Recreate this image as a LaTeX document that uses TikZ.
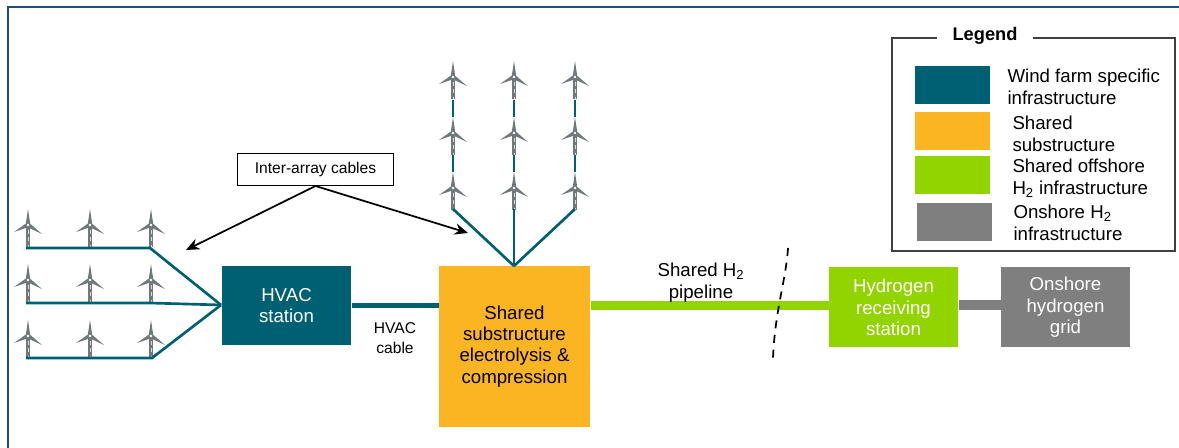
\documentclass[tikz,border=0pt]{standalone}
\usepackage{fontspec}
\setmainfont{Liberation Sans}
\usetikzlibrary{arrows.meta}
\definecolor{windteal}{RGB}{0,96,115}
\definecolor{sharedorange}{RGB}{251,181,34}
\definecolor{offgreen}{RGB}{146,212,0}
\definecolor{onshoregray}{RGB}{127,127,127}
\definecolor{framecol}{RGB}{31,78,121}
\definecolor{bladegray}{RGB}{112,120,122}
\tikzset{every picture/.style={line width=0.75pt}}
\tikzset{
  stationbox/.style={minimum width=96.75pt,minimum height=60pt,inner sep=0pt,align=center,text=white,font=\fontsize{14}{16}\selectfont},
  swatch/.style={minimum width=56.25pt,minimum height=28.5pt,inner sep=0pt},
  legendtext/.style={anchor=west,align=left,inner sep=0pt,font=\fontsize{14}{16.5}\selectfont},
  smalltext/.style={align=center,inner sep=0pt,font=\fontsize{11.7}{15}\selectfont},
  arraycable/.style={draw=windteal,line width=2pt},
  callout/.style={-{Stealth[length=10pt,width=8.5pt]},line width=1.3pt},
  turbine/.pic={
    \draw [bladegray,line width=3.2pt] (0,0) -- (0,22);
    \draw [white!75!bladegray,line width=0.7pt,dash pattern=on 3pt off 2.5pt] (0,5) -- (0,22);
    \fill [bladegray] (-2.2,-1) -- (0,-16) -- (2.2,-1) -- cycle;
    \fill [bladegray] (-1,-2.2) -- (-14,7) -- (1,2) -- cycle;
    \fill [bladegray] (1,-2.2) -- (14,9) -- (-1,2) -- cycle;
    \fill [white] (0,0) circle (1.4);
  }
}

\begin{document}
\begin{tikzpicture}[x=0.75pt,y=0.75pt,yscale=-1,xscale=1]
\useasboundingbox (0,0) rectangle (1179,448);

%Frame
\draw [framecol,line width=1.2pt] (8,448) -- (8,7) -- (1179,7);

%Turbines, left group
\foreach \rowy in {225,280,336}
  \foreach \colx in {28,90,151}
    \pic [transform shape] at (\colx,\rowy) {turbine};
%Turbines, upper group
\foreach \rowy in {77,133,188}
  \foreach \colx in {453,514,575}
    \pic [transform shape] at (\colx,\rowy) {turbine};

% Boxes
\node [stationbox,fill=windteal,minimum height=59.25pt] (hvac) at (286.5,305.5) {HVAC\\station};
\node [stationbox,fill=sharedorange,minimum width=113.25pt,minimum height=120.75pt,text=black] (sub) at (514.5,346.5) {Shared\\substructure\\electrolysis \&\\compression};
\node [stationbox,fill=offgreen] (recv) at (893.5,307.5) {Hydrogen\\receiving\\station};
\node [stationbox,fill=onshoregray] (grid) at (1065.5,307.5) {Onshore\\hydrogen\\grid};

%Free ends of the inter-array cables
\coordinate (hub) at (221,305);
\coordinate (fan) at (514,266);
\foreach \rowname/\rowy/\endx in {a/248/150,b/303/150,c/358/152} {
  \coordinate (start\rowname) at (26,\rowy);
  \coordinate (end\rowname) at (\endx,\rowy);
  \draw [arraycable] (start\rowname) -- (end\rowname) -- (hub);
}
\foreach \colname/\colx in {a/453,b/514,c/575} {
  \coordinate (foot\colname) at (\colx,209);
  \draw [arraycable] (foot\colname) -- (fan);
  \foreach \linky in {100,155} {
    \coordinate (top\colname\linky) at (\colx,\linky);
    \coordinate (low\colname\linky) at (\colx,\linky+17);
    \draw [arraycable] (top\colname\linky) -- (low\colname\linky);
  }
}

%Connectors between boxes
\draw [windteal,line width=3.5pt] (hvac.east) -- (hvac.east -| sub.west);
\draw [offgreen,line width=7pt] (hvac.east -| recv.west) -- (hvac.east -| sub.east);
\draw [onshoregray,line width=7.5pt] (hvac.east -| recv.east) -- (hvac.east -| grid.west);

%Dashed cut
\coordinate (cuttop) at (788,248);
\coordinate (cutlow) at (773,358);
\draw [black,line width=1.3pt,dash pattern=on 6pt off 5pt] (cuttop) .. controls (786,280) and (775,310) .. (cutlow);

% Text Node
\node [smalltext,draw=black,fill=white,minimum width=117pt,minimum height=24pt] (inter) at (315.5,169.5) {Inter-array cables};
\coordinate (tipleft) at (186,250);
\coordinate (tipright) at (468,233);
\draw [callout] (inter.south) -- (tipleft);
\draw [callout] (inter.south) -- (tipright);
% Text Node
\node [smalltext] (cablelabel) at (395,338) {HVAC\\cable};
% Text Node
\node [legendtext,anchor=center,align=center] (pipelabel) at (701,283) {Shared H\textsubscript{2}\\pipeline};

%Legend
\coordinate (legtl) at (892,38);
\coordinate (legbr) at (1175,251);
\draw [line width=1pt,draw=black!75] (legtl) rectangle (legbr);
\node [fill=white,inner sep=0pt,minimum width=72pt,minimum height=14pt,font=\fontsize{13.7}{14}\selectfont\bfseries] (legtitle) at (985,36) {Legend};
\node [swatch,fill=windteal] (swteal) at (952.5,85.5) {};
\node [swatch,fill=sharedorange] (sworange) at (952.5,131.5) {};
\node [swatch,fill=offgreen] (swgreen) at (952.5,175.5) {};
\node [swatch,fill=onshoregray] (swgray) at (954,222) {};
% Text Node
\node [legendtext] (lteal) at (1007,87) {Wind farm specific\\infrastructure};
\node [legendtext] (lorange) at (1012,134) {Shared\\substructure};
\node [legendtext] (lgreen) at (1012,178) {Shared offshore\\H\textsubscript{2} infrastructure};
\node [legendtext] (lgray) at (1013,223) {Onshore H\textsubscript{2}\\infrastructure};

\end{tikzpicture}
\end{document}
